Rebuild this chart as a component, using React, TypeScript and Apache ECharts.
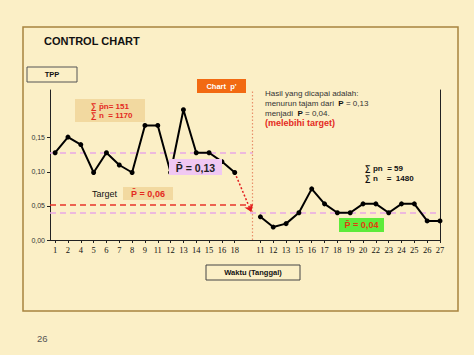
import React, { useEffect, useRef } from "react";
import * as echarts from "echarts";

const leftDays = ["1", "2", "4", "5", "6", "7", "8", "9", "11", "12", "13", "14", "15", "16", "18"];
const leftValues = [0.128, 0.151, 0.14, 0.099, 0.128, 0.11, 0.099, 0.168, 0.168, 0.099, 0.191, 0.128, 0.128, 0.115, 0.099];
const rightDays = ["11", "12", "13", "15", "16", "17", "18", "19", "20", "22", "23", "24", "25", "26", "27"];
const rightValues = [0.034, 0.019, 0.024, 0.04, 0.075, 0.053, 0.04, 0.04, 0.053, 0.053, 0.04, 0.053, 0.053, 0.028, 0.028];
const yTicks = [0, 0.05, 0.1, 0.15];
const yTickLabels = ["0,00", "0,05", "0,10", "0,15"];
const meanBefore = 0.128;
const meanAfter = 0.04;
const targetLine = 0.052;

const SANS = "'Liberation Sans', Arial, sans-serif";
const BG = "#FBEFC6";

export default function App() {
  const ref = useRef<HTMLDivElement>(null);
  useEffect(() => {
    if (!ref.current) return;
    const chart = echarts.init(ref.current, undefined, { renderer: "svg" });

    const leftPos = leftDays.map((_, i) => i + 1);
    const gapPos = leftDays.length + 1;
    const rightPos = rightDays.map((_, i) => gapPos + 1 + i);
    const xMin = 0.6;
    const xMax = rightPos[rightPos.length - 1];
    const yMax = 0.22;
    const divider = gapPos + 0.4;
    const labelMap: Record<string, string> = {};
    leftPos.forEach((p, i) => (labelMap[String(p)] = leftDays[i]));
    rightPos.forEach((p, i) => (labelMap[String(p)] = rightDays[i]));
    const tickPos = [...leftPos, ...rightPos];

    const pink = "#E9A8E6";
    const text = (x: number, y: number, t: string, o: any = {}) => ({
      type: "text",
      x,
      y,
      z: 10,
      style: {
        text: t,
        fontFamily: SANS,
        fontSize: o.fontSize ?? 8,
        fontWeight: o.fontWeight ?? "normal",
        fill: o.fill ?? "#222",
        align: o.align ?? "left",
        verticalAlign: "middle",
        rich: o.rich,
      },
    });
    const rect = (x: number, y: number, w: number, h: number, fill: string, stroke?: string) => ({
      type: "rect",
      z: 5,
      shape: { x, y, width: w, height: h },
      style: { fill, stroke: stroke ?? "none", lineWidth: 1 },
    });

    chart.setOption({
      animation: false,
      backgroundColor: BG,
      grid: { left: 50, right: 34, top: 90, bottom: 115 },
      xAxis: {
        type: "value",
        min: xMin,
        max: xMax,
        splitLine: { show: false },
        axisLine: { show: true, lineStyle: { color: "#222", width: 1 } },
        axisTick: { show: true, length: 3, customValues: tickPos, lineStyle: { color: "#222" } },
        axisLabel: {
          customValues: tickPos,
          formatter: (v: number) => labelMap[String(Math.round(v))] ?? "",
          fontFamily: "'Liberation Serif', serif",
          fontSize: 8.5,
          color: "#111",
          margin: 5,
        },
      },
      yAxis: [
        {
          type: "value",
          min: 0,
          max: yMax,
          splitLine: { show: false },
          axisLine: { show: true, lineStyle: { color: "#222", width: 1 } },
          axisTick: { show: true, length: 3, customValues: yTicks, lineStyle: { color: "#222" } },
          axisLabel: {
            customValues: yTicks,
            formatter: (v: number) => yTickLabels[yTicks.findIndex((t) => Math.abs(t - v) < 1e-6)] ?? "",
            fontFamily: SANS,
            fontSize: 7,
            color: "#333",
            margin: 5,
          },
        },
        {
          type: "value",
          position: "right",
          min: 0,
          max: yMax,
          splitLine: { show: false },
          axisLine: { show: true, lineStyle: { color: "#222", width: 1 } },
          axisTick: { show: false },
          axisLabel: { show: false },
        },
      ],
      series: [
        {
          type: "line",
          data: leftValues.map((v, i) => [leftPos[i], v]),
          symbol: "circle",
          symbolSize: 5,
          z: 3,
          itemStyle: { color: "#000" },
          lineStyle: { color: "#000", width: 2 },
          markLine: {
            silent: true,
            symbol: "none",
            z: 2,
            label: { show: false },
            data: [
              [
                { coord: [xMin, meanBefore], lineStyle: { color: pink, type: [6, 4], width: 1.5 } },
                { coord: [divider, meanBefore] },
              ],
              [
                { coord: [xMin, targetLine], lineStyle: { color: "#E8352A", type: [6, 4], width: 1.5 } },
                { coord: [divider, targetLine] },
              ],
              [
                { coord: [xMin, meanAfter], lineStyle: { color: pink, type: [6, 4], width: 1.5 } },
                { coord: [xMax, meanAfter] },
              ],
              [
                { coord: [divider, 0], lineStyle: { color: "#E8906A", type: [1.5, 2], width: 1.2 } },
                { coord: [divider, yMax] },
              ],
              [
                {
                  coord: [leftPos[leftPos.length - 1], leftValues[leftValues.length - 1]],
                  symbol: "none",
                  lineStyle: { color: "#E21D1D", type: [2, 2], width: 1.5 },
                },
                { coord: [divider - 0.1, meanAfter + 0.001], symbol: "arrow", symbolSize: 7 },
              ],
            ],
          },
        },
        {
          type: "line",
          data: rightValues.map((v, i) => [rightPos[i], v]),
          symbol: "circle",
          symbolSize: 5,
          z: 3,
          itemStyle: { color: "#000" },
          lineStyle: { color: "#000", width: 2 },
        },
      ],
      graphic: [
        {
          type: "rect",
          z: 1,
          shape: { x: 23, y: 27, width: 435, height: 284 },
          style: { fill: "none", stroke: "#A8843F", lineWidth: 1.5 },
        },
        text(44, 41, "CONTROL CHART", { fontSize: 11, fontWeight: "bold", fill: "#111" }),
        rect(27, 67, 50, 15, "none", "#555"),
        text(52, 74.5, "TPP", { fontSize: 7.5, fontWeight: "bold", align: "center", fill: "#111" }),
        rect(197, 79, 49, 14, "#F26A12"),
        text(221.5, 86, "Chart  p'", { fontSize: 7.5, fontWeight: "bold", align: "center", fill: "#fff" }),
        rect(75, 99, 70, 23, "#F2D9A0"),
        text(91, 106, "\u2211 p\u0304n= 151", { fontSize: 8, fontWeight: "bold", fill: "#E42A1E" }),
        text(91, 115, "\u2211 n  = 1170", { fontSize: 8, fontWeight: "bold", fill: "#E42A1E" }),
        text(365, 168, "\u2211 pn  = 59", { fontSize: 8, fontWeight: "bold", fill: "#111" }),
        text(365, 178, "\u2211 n    =  1480", { fontSize: 8, fontWeight: "bold", fill: "#111" }),
        text(265, 93, "Hasil yang dicapai adalah:", { fontSize: 8, fill: "#333" }),
        text(265, 103, "{n|menurun tajam dari  }{b|P}{n| = 0,13}", {
          fontSize: 8,
          fill: "#333",
          rich: {
            n: { fontSize: 8, fontFamily: SANS, fill: "#333" },
            b: { fontSize: 8, fontFamily: SANS, fontWeight: "bold", fill: "#111" },
          },
        }),
        text(265, 113, "{n|menjadi  }{b|P}{n| = 0,04.}", {
          fontSize: 8,
          fill: "#333",
          rich: {
            n: { fontSize: 8, fontFamily: SANS, fill: "#333" },
            b: { fontSize: 8, fontFamily: SANS, fontWeight: "bold", fill: "#111" },
          },
        }),
        text(265, 123, "(melebihi target)", { fontSize: 9, fontWeight: "bold", fill: "#E42A1E" }),
        rect(169, 159, 53, 16, "#F0C8F2"),
        text(195.5, 167.5, "P\u0304 = 0,13", { fontSize: 10.5, fontWeight: "bold", align: "center", fill: "#222" }),
        text(92, 193.5, "Target", { fontSize: 9, fill: "#111" }),
        rect(123, 187, 50, 13, "#F2D9A0"),
        text(148, 193.5, "P\u0304 = 0,06", { fontSize: 9, fontWeight: "bold", align: "center", fill: "#E42A1E" }),
        rect(339, 218, 45, 14, "#5DEB3A"),
        text(361.5, 225, "P\u0304 = 0,04", { fontSize: 9, fontWeight: "bold", align: "center", fill: "#E23A10" }),
        rect(206, 265, 94, 15, "none", "#444"),
        text(253, 272.5, "Waktu (Tanggal)", { fontSize: 7.5, fontWeight: "bold", align: "center", fill: "#111" }),
        text(37, 338, "26", { fontSize: 9.5, fill: "#555" }),
      ],
    });
    return () => chart.dispose();
  }, []);
  return (
    <div
      ref={ref}
      style={{ position: "absolute", left: 0, top: 0, width: 474, height: 355, background: BG }}
    />
  );
}
